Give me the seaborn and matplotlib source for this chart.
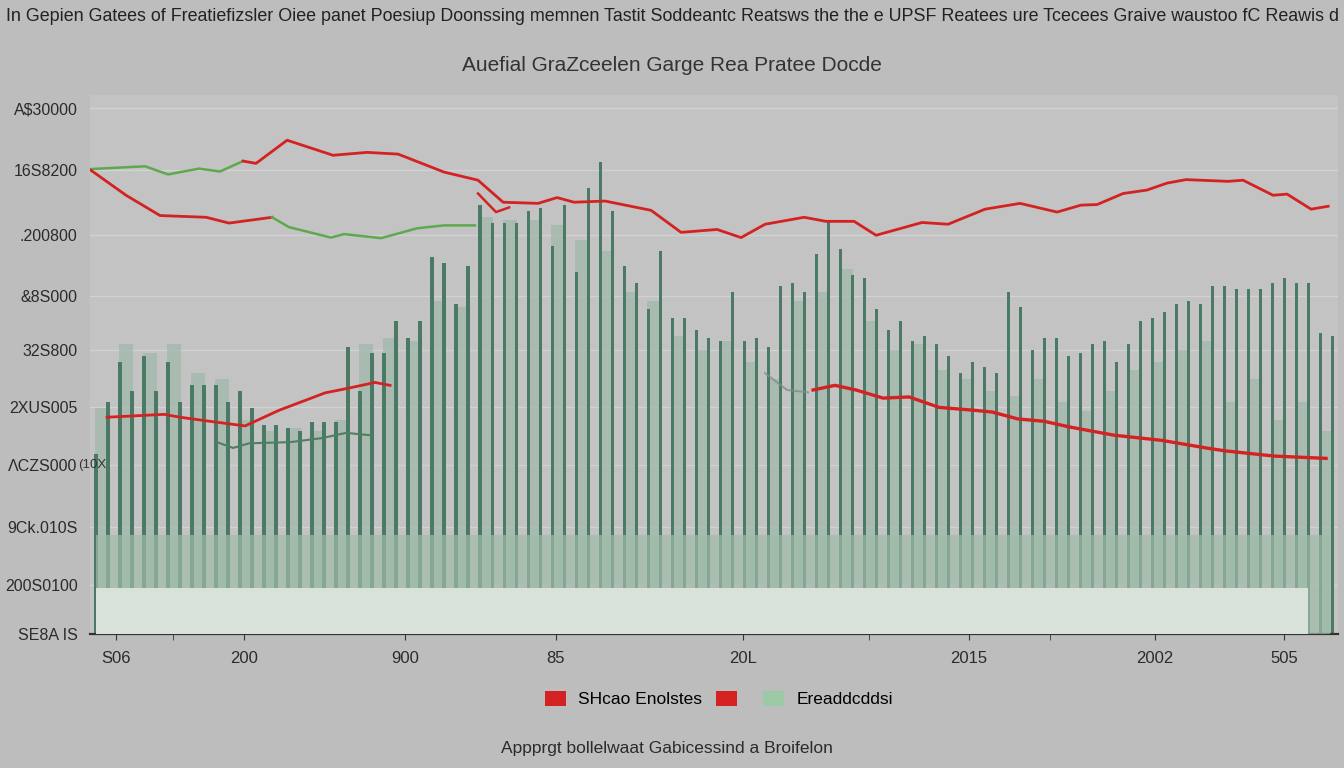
import numpy as np
import pandas as pd
import seaborn as sns
import matplotlib.pyplot as plt
from matplotlib.patches import Patch

# ---- text ----
title_text = ("In Gepien Gatees of Freatiefizsler Oiee panet Poesiup Doonssing memnen Tastit "
              "Soddeantc Reatsws the the e UPSF Reatees ure Tcecees Graive waustoo fC Reawis d")
subtitle_text = "Auefial GraZceelen Garge Rea Pratee Docde"
caption_text = "Appprgt bollelwaat Gabicessind a Broifelon"
legend_labels = ["SHcao Enolstes", "", "Ereaddcddsi"]

ytick_values = [0, 0.84, 1.84, 2.91, 3.91, 4.90, 5.84, 6.88, 8.0, 9.07]
ytick_labels = ["SE8A IS", "200S0100", "9Ck.010S", "ΛCZS000", "2XUS005",
                "32S800", "&8S000", ".200800", "16S8200", "A$30000"]
xtick_values = [1.67, 12.3, 25.75, 38.3, 53.9, 72.75, 88.25, 99.0]
xtick_labels = ["S06", "200", "900", "85", "20L", "2015", "2002", "505"]
xtick_minor = [6.4, 64.4, 79.5]

# ---- bars ----
bar_heights = [
    3.1, 4.0, 4.7, 4.2, 4.8, 4.2, 4.7, 4.0, 4.3, 4.3,
    4.3, 4.0, 4.2, 3.9, 3.6, 3.6, 3.55, 3.5, 3.65, 3.65,
    3.65, 4.95, 4.2, 4.85, 4.85, 5.4, 5.1, 5.4, 6.5, 6.4,
    5.7, 6.35, 7.4, 7.1, 7.1, 7.1, 7.3, 7.35, 6.7, 7.4,
    6.25, 7.7, 8.15, 7.3, 6.35, 6.05, 5.6, 6.6, 5.45, 5.45,
    5.25, 5.1, 5.05, 5.9, 5.05, 5.1, 4.95, 6.0, 6.05, 5.9,
    6.55, 7.15, 6.65, 6.2, 6.15, 5.6, 5.25, 5.4, 5.05, 5.15,
    5.0, 4.8, 4.5, 4.7, 4.6, 4.5, 5.9, 5.65, 4.9, 5.1,
    5.1, 4.8, 4.85, 5.0, 5.05, 4.7, 5.0, 5.4, 5.45, 5.55,
    5.7, 5.75, 5.7, 6.0, 6.0, 5.95, 5.95, 5.95, 6.05, 6.15,
    6.05, 6.05, 5.2, 5.15]

light_heights = [
    3.9, 5.0, 4.85, 5.0, 4.5, 4.4, 3.7, 3.5, 3.55, 3.5,
    3.7, 5.0, 5.1, 5.05, 5.75, 5.65, 7.2, 7.15, 7.15, 7.05,
    6.8, 6.6, 5.9, 5.75, 5.15, 4.9, 5.05, 4.7, 4.4, 5.75,
    5.9, 6.3, 5.4, 4.9, 5.0, 4.55, 4.4, 4.2, 4.1, 4.4,
    4.0, 3.85, 4.2, 4.55, 4.7, 4.9, 5.05, 4.0, 4.4, 3.7,
    4.0, 3.5]

# bottom bands
mid_band_level = 1.71
pale_band_level = 0.79
mid_band_span = [0.0, 102.8]
pale_band_span = [0.0, 101.0]

# ---- lines ----
green_top_x = [-0.67, 4.08, 6.0, 8.58, 10.33, 12.25]
green_top_y = [8.02, 8.07, 7.93, 8.03, 7.98, 8.16]

red_top_x = [12.25, 13.33, 15.92, 19.75, 22.58, 25.17, 29.0, 31.83, 33.92, 36.83,
             38.42, 39.83, 42.42, 46.25, 48.75, 51.75, 53.75, 55.75, 59.0, 60.83,
             63.17, 65.0, 68.83, 71.0, 74.08, 77.0, 80.08, 82.08, 83.42, 85.58,
             87.58, 89.25, 90.83, 94.33, 95.58, 98.08, 99.25, 101.25, 102.67]
red_top_y = [8.16, 8.12, 8.52, 8.26, 8.31, 8.28, 7.97, 7.83, 7.45, 7.43,
             7.53, 7.45, 7.47, 7.31, 6.93, 6.98, 6.84, 7.07, 7.19, 7.12,
             7.12, 6.88, 7.10, 7.07, 7.33, 7.43, 7.28, 7.40, 7.41, 7.60,
             7.66, 7.78, 7.84, 7.81, 7.83, 7.57, 7.59, 7.33, 7.38]

red_second_x = [-0.42, 2.5, 5.33, 9.17, 11.08, 14.67]
red_second_y = [8.0, 7.57, 7.22, 7.19, 7.09, 7.19]
green_second_x = [14.67, 16.08, 19.58, 20.67, 23.75, 26.75, 29.0, 31.58]
green_second_y = [7.19, 7.02, 6.84, 6.90, 6.83, 7.0, 7.05, 7.05]

red_v_x = [31.83, 33.33, 34.42]
red_v_y = [7.60, 7.28, 7.36]

red_low_left_x = [0.92, 5.67, 7.0, 9.83, 12.42, 15.25, 19.08, 21.0, 23.25, 24.5]
red_low_left_y = [3.74, 3.79, 3.74, 3.66, 3.59, 3.86, 4.16, 4.24, 4.34, 4.29]

red_low_right_x = [59.75, 61.58, 63.33, 65.58, 67.75, 70.25, 73.17, 74.67, 76.83, 79.0,
                   81.17, 84.83, 88.83, 92.5, 94.08, 98.17, 102.5]
red_low_right_y = [4.21, 4.29, 4.21, 4.07, 4.09, 3.91, 3.86, 3.83, 3.71, 3.67,
                   3.57, 3.43, 3.34, 3.21, 3.16, 3.07, 3.03]

grey_link_x = [55.75, 57.58, 59.33]
grey_link_y = [4.5, 4.21, 4.17]

green_low_x = [10.08, 11.42, 12.75, 16.17, 18.83, 20.83, 22.83]
green_low_y = [3.31, 3.21, 3.29, 3.31, 3.38, 3.47, 3.43]

# ---- colours ----
BG = "#bdbdbd"
AX_BG = "#c3c3c3"
DARK_BAR = "#4b7a64"
LIGHT_BAR = "#a1b9ab"
RED = "#d42222"
GREEN = "#5da94e"
GREEN_LOW = "#4f7f63"
MID_BAND = "#9fbba8"
PALE_BAND = "#d8e1da"
FONT = ["Liberation Sans", "DejaVu Sans"]

fig = plt.figure(figsize=(13.44, 7.68), dpi=100, facecolor=BG)
ax = fig.add_axes([0.067, 0.1745, 0.9286, 0.7018])
ax.set_facecolor(AX_BG)

df_bars = pd.DataFrame({"pos": np.arange(len(bar_heights)), "h": bar_heights})
df_light = pd.DataFrame({"pos": np.arange(len(light_heights)) * 2 + 0.5, "h": light_heights})

sns.barplot(data=df_light, x="pos", y="h", native_scale=True, width=0.6,
            color=LIGHT_BAR, alpha=0.75, linewidth=0, saturation=1, ax=ax, zorder=1)
sns.barplot(data=df_bars, x="pos", y="h", native_scale=True, width=0.26,
            color=DARK_BAR, linewidth=0, saturation=1, ax=ax, zorder=2)

ax.fill_between(mid_band_span, 0, mid_band_level, color=MID_BAND, alpha=0.7, lw=0, zorder=3)
ax.fill_between(pale_band_span, 0, pale_band_level, color=PALE_BAND, lw=0, zorder=4)

def line(x, y, color, lw=2.0, alpha=1.0):
    sns.lineplot(x=x, y=y, sort=False, color=color, lw=lw, alpha=alpha, ax=ax, zorder=5)

line(green_top_x, green_top_y, GREEN, 1.8)
line(red_top_x, red_top_y, RED, 2.0)
line(red_second_x, red_second_y, RED, 2.0)
line(green_second_x, green_second_y, GREEN, 1.8)
line(red_v_x, red_v_y, RED, 1.8)
line(red_low_left_x, red_low_left_y, RED, 2.0)
line(red_low_right_x, red_low_right_y, RED, 2.4)
line(grey_link_x, grey_link_y, "#7f8f85", 1.4, 0.8)
line(green_low_x, green_low_y, GREEN_LOW, 1.5)

ax.set_xlim(-0.5, 103.5)
ax.set_ylim(0, 9.3)
ax.set_xlabel("")
ax.set_ylabel("")

ax.set_yticks(ytick_values)
ax.set_yticklabels(ytick_labels)
ax.set_xticks(xtick_values)
ax.set_xticklabels(xtick_labels)
ax.set_xticks(xtick_minor, minor=True)

ax.yaxis.grid(True, color="#d2d2d2", lw=1)
ax.xaxis.grid(False)
ax.set_axisbelow(True)

for s in ["top", "right", "left"]:
    ax.spines[s].set_visible(False)
ax.spines["bottom"].set_color("#333333")
ax.spines["bottom"].set_linewidth(1.6)

ax.tick_params(axis="y", length=0, pad=9, labelsize=11.5, labelcolor="#2b2b2b")
ax.tick_params(axis="x", which="both", length=4, color="#333333", pad=8,
               labelsize=12, labelcolor="#2b2b2b")
for lab in ax.get_xticklabels() + ax.get_yticklabels():
    lab.set_family(FONT)

fig.text(0.5, 0.99, title_text, ha="center", va="top", fontsize=12.9,
         color="#222222", family=FONT)
fig.text(0.5, 0.915, subtitle_text, ha="center", va="center", fontsize=15,
         color="#333333", family=FONT)
fig.text(0.058, 0.395, "(10X", ha="left", va="center", fontsize=9.5,
         color="#333333", family=FONT)

handles = [Patch(facecolor=RED), Patch(facecolor=RED), Patch(facecolor="#9cc9a6")]
fig.legend(handles, legend_labels, loc="center", bbox_to_anchor=(0.535, 0.09), ncol=3,
           frameon=False, handlelength=1.2, handleheight=1.0,
           columnspacing=0.8, handletextpad=0.7, prop={"family": FONT, "size": 12.5})

fig.text(0.496, 0.026, caption_text, ha="center", va="center", fontsize=12.5,
         color="#2b2b2b", family=FONT)

fig.savefig("out.png", dpi=100, facecolor=BG)
